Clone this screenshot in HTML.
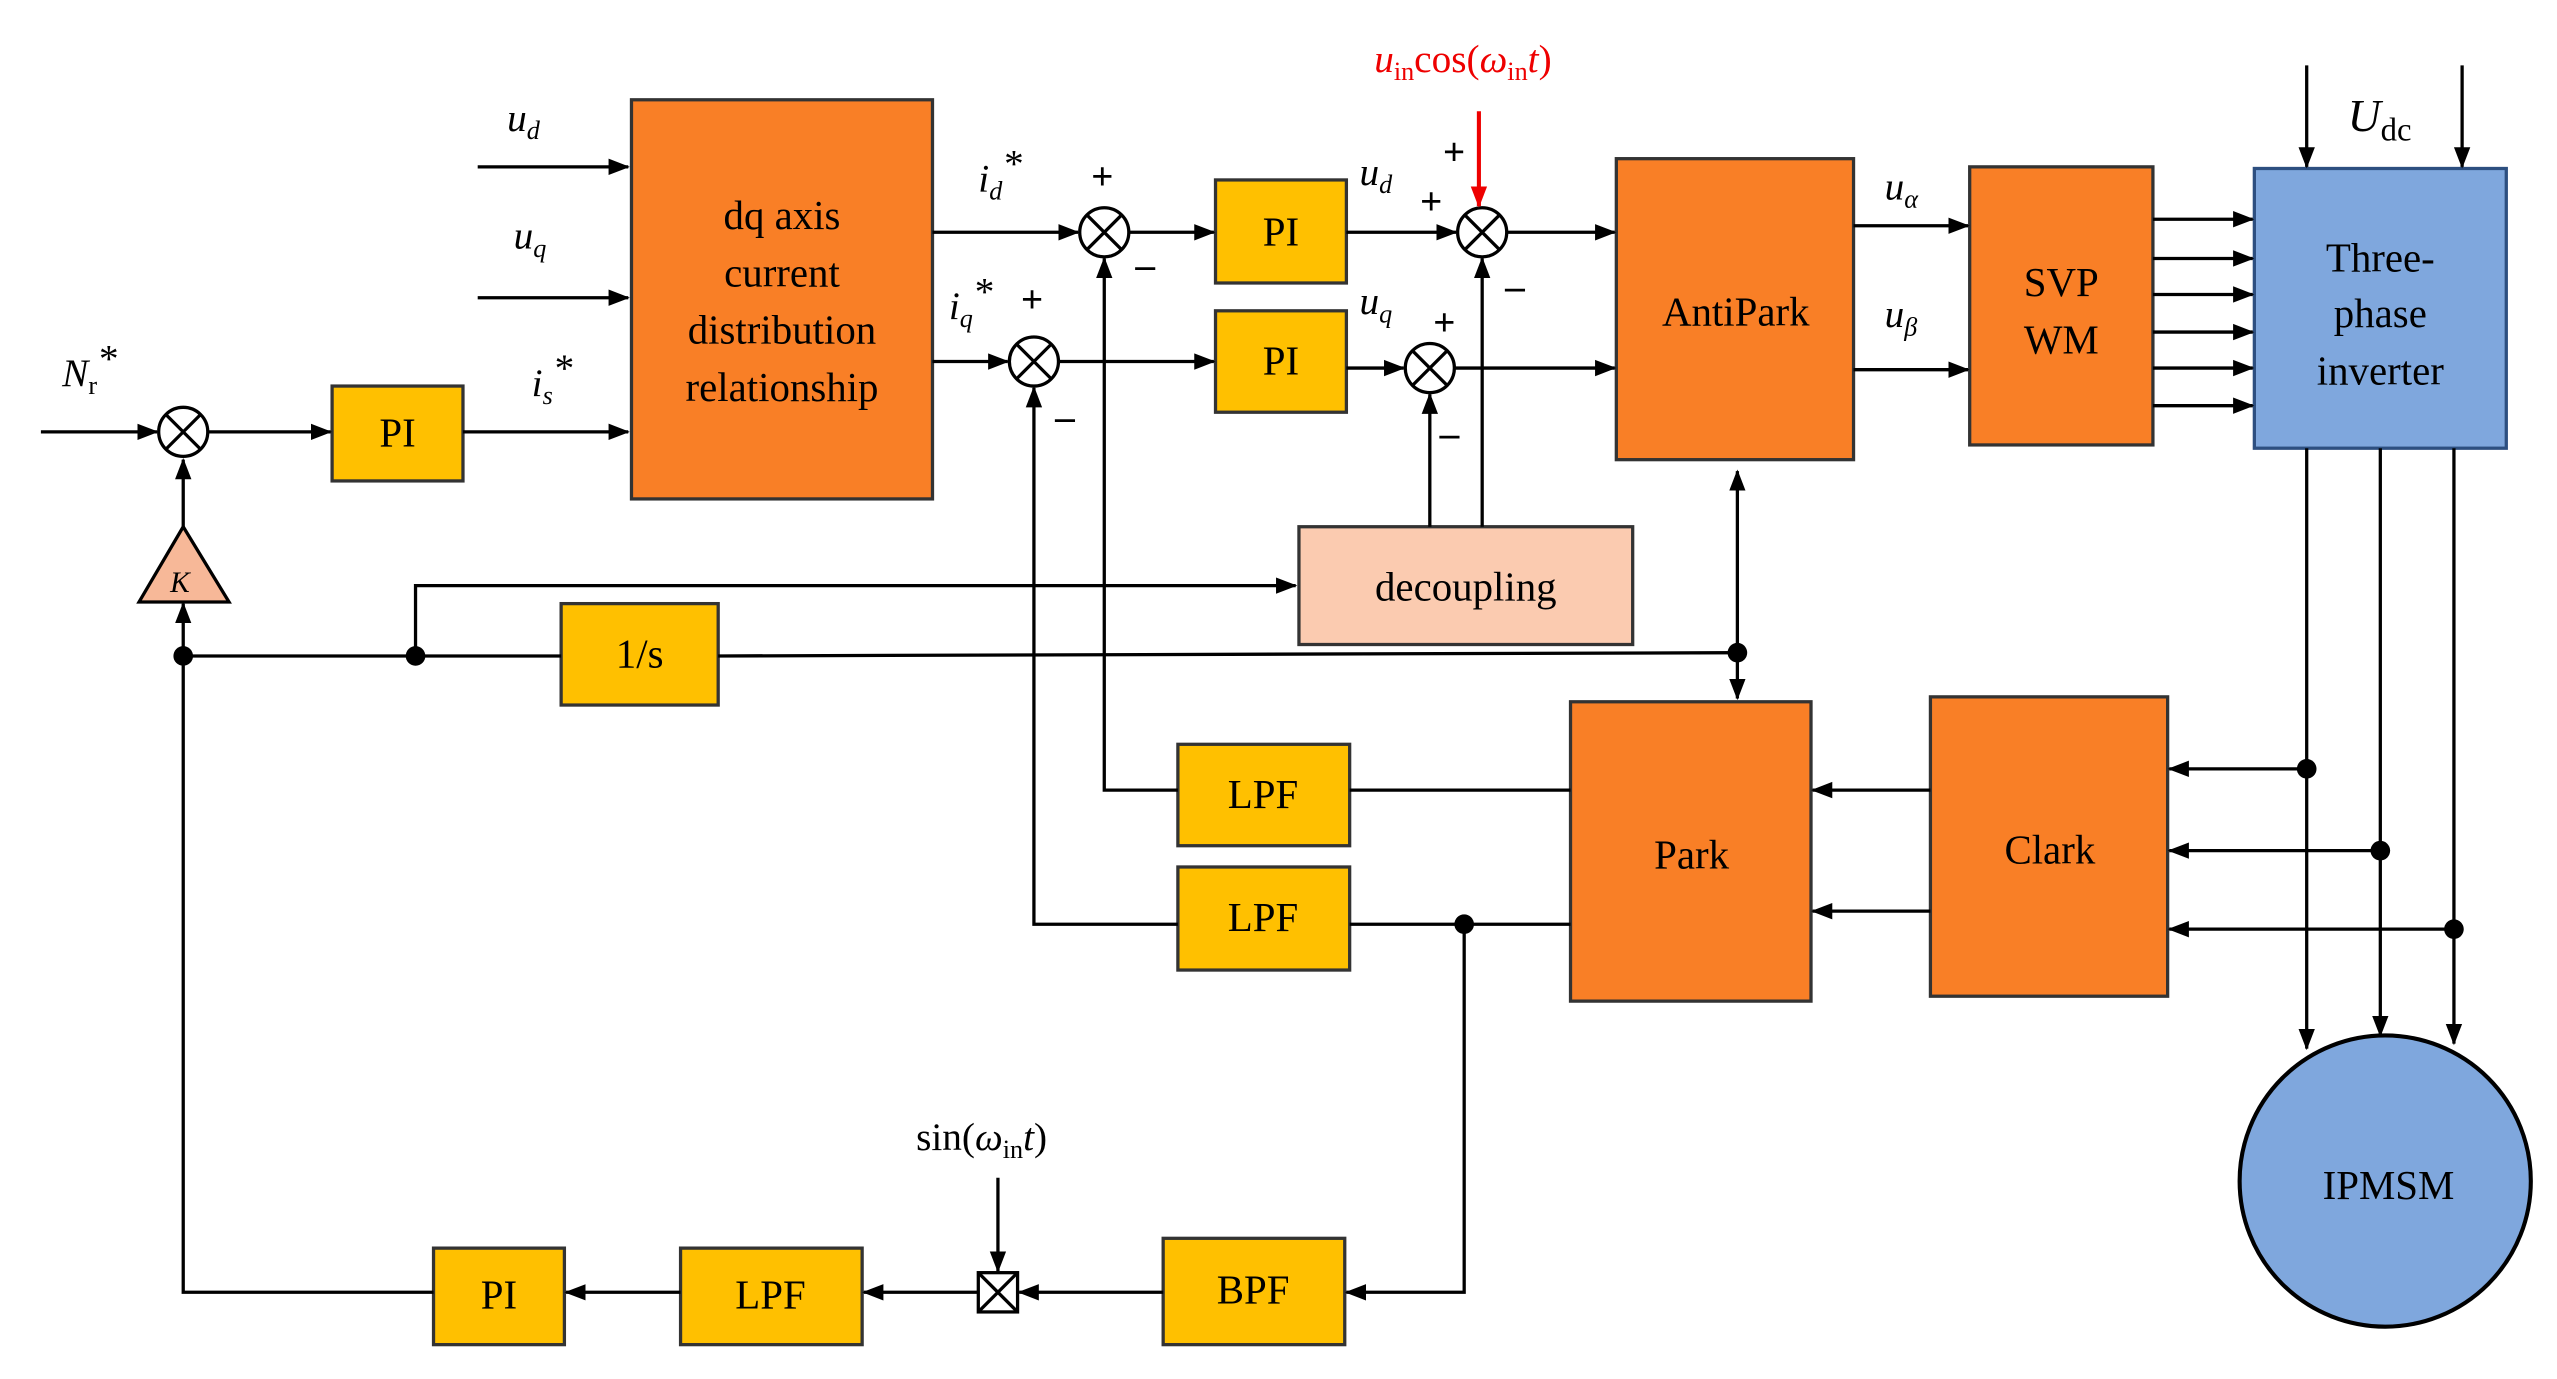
<!DOCTYPE html>
<html><head><meta charset="utf-8"><style>
html,body{margin:0;padding:0;background:#fff;}
svg{display:block;}
text{font-family:"Liberation Serif",serif;fill:#000;}
</style></head><body>
<svg width="2557" height="1379" viewBox="0 0 1563 843" preserveAspectRatio="none" xmlns="http://www.w3.org/2000/svg">
<defs>
<marker id="a" markerWidth="13" markerHeight="12" refX="12" refY="6" orient="auto" markerUnits="userSpaceOnUse"><path d="M0,1 L13,6 L0,11 Z" fill="#000"/></marker>
<marker id="r" markerWidth="13" markerHeight="12" refX="12" refY="6" orient="auto" markerUnits="userSpaceOnUse"><path d="M0,1 L13,6 L0,11 Z" fill="#e00"/></marker>
</defs>
<g stroke="#000" stroke-width="2" fill="none">
<rect x="386" y="61" width="184" height="244" fill="#F97F26" stroke="#333"/>
<rect x="203" y="236" width="80" height="58" fill="#FFC000" stroke="#333"/>
<rect x="743" y="110" width="80" height="63" fill="#FFC000" stroke="#333"/>
<rect x="743" y="190" width="80" height="62" fill="#FFC000" stroke="#333"/>
<rect x="988" y="97" width="145" height="184" fill="#F97F26" stroke="#333"/>
<rect x="1204" y="102" width="112" height="170" fill="#F97F26" stroke="#333"/>
<rect x="1378" y="103" width="154" height="171" fill="#7FA7DD" stroke="#2d4f80"/>
<rect x="794" y="322" width="204" height="72" fill="#FBCBB0" stroke="#333"/>
<rect x="343" y="369" width="96" height="62" fill="#FFC000" stroke="#333"/>
<rect x="960" y="429" width="147" height="183" fill="#F97F26" stroke="#333"/>
<rect x="1180" y="426" width="145" height="183" fill="#F97F26" stroke="#333"/>
<rect x="720" y="455" width="105" height="62" fill="#FFC000" stroke="#333"/>
<rect x="720" y="530" width="105" height="63" fill="#FFC000" stroke="#333"/>
<rect x="711" y="757" width="111" height="65" fill="#FFC000" stroke="#333"/>
<rect x="416" y="763" width="111" height="59" fill="#FFC000" stroke="#333"/>
<rect x="265" y="763" width="80" height="59" fill="#FFC000" stroke="#333"/>
<circle cx="1458" cy="722" r="89" fill="#7FA7DD" stroke="#000" stroke-width="2.5"/>
<path d="M112,322 L140,368 L85,368 Z" fill="#F7B898"/>
<circle cx="112" cy="264" r="15"/><path d="M101,253 L123,275 M123,253 L101,275"/>
<circle cx="675" cy="142" r="15"/><path d="M664,131 L686,153 M686,131 L664,153"/>
<circle cx="632" cy="221" r="15"/><path d="M621,210 L643,232 M643,210 L621,232"/>
<circle cx="906" cy="142" r="15"/><path d="M895,131 L917,153 M917,131 L895,153"/>
<circle cx="874" cy="225" r="15"/><path d="M863,214 L885,236 M885,214 L863,236"/>
<rect x="598" y="778" width="24" height="24"/><path d="M598,778 L622,802 M622,778 L598,802"/>
<path d="M25,264 L96,264" marker-end="url(#a)"/>
<path d="M127,264 L202,264" marker-end="url(#a)"/>
<path d="M283,264 L384,264" marker-end="url(#a)"/>
<path d="M292,102 L384,102" marker-end="url(#a)"/>
<path d="M292,182 L384,182" marker-end="url(#a)"/>
<path d="M570,142 L659,142" marker-end="url(#a)"/>
<path d="M570,221 L616,221" marker-end="url(#a)"/>
<path d="M690,142 L742,142" marker-end="url(#a)"/>
<path d="M647,221 L742,221" marker-end="url(#a)"/>
<path d="M823,142 L890,142" marker-end="url(#a)"/>
<path d="M823,225 L858,225" marker-end="url(#a)"/>
<path d="M921,142 L987,142" marker-end="url(#a)"/>
<path d="M889,225 L987,225" marker-end="url(#a)"/>
<path d="M874,322 L874,241" marker-end="url(#a)"/>
<path d="M906,322 L906,158" marker-end="url(#a)"/>
<path d="M1133,138 L1203,138" marker-end="url(#a)"/>
<path d="M1133,226 L1203,226" marker-end="url(#a)"/>
<path d="M1316,134 L1377,134" marker-end="url(#a)"/>
<path d="M1316,158 L1377,158" marker-end="url(#a)"/>
<path d="M1316,180 L1377,180" marker-end="url(#a)"/>
<path d="M1316,203 L1377,203" marker-end="url(#a)"/>
<path d="M1316,225 L1377,225" marker-end="url(#a)"/>
<path d="M1316,248 L1377,248" marker-end="url(#a)"/>
<path d="M1410,40 L1410,102" marker-end="url(#a)"/>
<path d="M1505,40 L1505,102" marker-end="url(#a)"/>
<path d="M1410,274 L1410,641" marker-end="url(#a)"/>
<path d="M1455,274 L1455,633" marker-end="url(#a)"/>
<path d="M1500,274 L1500,638" marker-end="url(#a)"/>
<path d="M1410,470 L1326,470" marker-end="url(#a)"/>
<path d="M1455,520 L1326,520" marker-end="url(#a)"/>
<path d="M1500,568 L1326,568" marker-end="url(#a)"/>
<path d="M1180,483 L1108,483" marker-end="url(#a)"/>
<path d="M1180,557 L1108,557" marker-end="url(#a)"/>
<path d="M960,483 L825,483"/>
<path d="M960,565 L825,565"/>
<path d="M720,483 L675,483 L675,158" marker-end="url(#a)"/>
<path d="M720,565 L632,565 L632,237" marker-end="url(#a)"/>
<path d="M895,565 L895,790 L823,790" marker-end="url(#a)"/>
<path d="M711,790 L623,790" marker-end="url(#a)"/>
<path d="M598,790 L528,790" marker-end="url(#a)"/>
<path d="M416,790 L346,790" marker-end="url(#a)"/>
<path d="M610,720 L610,777" marker-end="url(#a)"/>
<path d="M265,790 L112,790 L112,369" marker-end="url(#a)"/>
<path d="M112,322 L112,281" marker-end="url(#a)"/>
<path d="M112,401 L343,401 M439,401 L1062,399"/>
<path d="M254,401 L254,358 L792,358" marker-end="url(#a)"/>
<path d="M1062,399 L1062,288" marker-end="url(#a)"/>
<path d="M1062,399 L1062,427" marker-end="url(#a)"/>
</g>
<path d="M904,68 L904,126" stroke="#e00" stroke-width="2.5" marker-end="url(#r)"/>
<g fill="#000">
<circle cx="112" cy="401" r="6"/><circle cx="254" cy="401" r="6"/><circle cx="1062" cy="399" r="6"/>
<circle cx="895" cy="565" r="6"/><circle cx="1410" cy="470" r="6"/><circle cx="1455" cy="520" r="6"/><circle cx="1500" cy="568" r="6"/>
</g>
<g font-size="25" text-anchor="middle">
<text x="478" y="140">dq axis</text><text x="478" y="175">current</text><text x="478" y="210">distribution</text><text x="478" y="245">relationship</text>
<text x="243" y="273">PI</text><text x="783" y="150">PI</text><text x="783" y="229">PI</text>
<text x="1061" y="199">AntiPark</text>
<text x="1260" y="181">SVP</text><text x="1260" y="216">WM</text>
<text x="1455" y="166">Three-</text><text x="1455" y="200">phase</text><text x="1455" y="235">inverter</text>
<text x="896" y="367">decoupling</text><text x="391" y="408">1/s</text>
<text x="1034" y="531">Park</text><text x="1253" y="528">Clark</text>
<text x="772" y="494">LPF</text><text x="772" y="569">LPF</text>
<text x="766" y="797">BPF</text><text x="471" y="800">LPF</text><text x="305" y="800">PI</text>
<text x="1460" y="733">IPMSM</text>
</g>
<g font-size="24" font-style="italic">
<text x="310" y="80">u<tspan font-size="16" dy="5">d</tspan></text>
<text x="314" y="152">u<tspan font-size="16" dy="5">q</tspan></text>
<text x="38" y="236">N<tspan font-size="16" dy="5" font-style="normal">r</tspan><tspan dy="-14">*</tspan></text>
<text x="325" y="242">i<tspan font-size="16" dy="5">s</tspan><tspan dy="-14">*</tspan></text>
<text x="598" y="117">i<tspan font-size="16" dy="5">d</tspan><tspan dy="-14">*</tspan></text>
<text x="580" y="195">i<tspan font-size="16" dy="5">q</tspan><tspan dy="-14">*</tspan></text>
<text x="831" y="113">u<tspan font-size="16" dy="5">d</tspan></text>
<text x="831" y="192">u<tspan font-size="16" dy="5">q</tspan></text>
<text x="1152" y="122">u<tspan font-size="16" dy="5">α</tspan></text>
<text x="1152" y="200">u<tspan font-size="16" dy="5">β</tspan></text>
<text x="1435" y="80" font-size="28">U<tspan font-style="normal" font-size="20" dy="6">dc</tspan></text>
<text x="104" y="362" font-size="18">K</text>
<text x="840" y="44" style="fill:#e00">u<tspan font-size="16" dy="5" font-style="normal">in</tspan><tspan dy="-5" font-style="normal">cos(</tspan>ω<tspan font-size="16" dy="5" font-style="normal">in</tspan><tspan dy="-5">t</tspan><tspan font-style="normal">)</tspan></text>
<text x="560" y="703" font-style="normal">sin(<tspan font-style="italic">ω</tspan><tspan font-size="16" dy="5">in</tspan><tspan dy="-5" font-style="italic">t</tspan>)</text>
</g>
<g font-size="24" font-weight="bold" font-family="Liberation Sans,sans-serif">
<text x="667" y="116">+</text><text x="694" y="170">–</text>
<text x="624" y="191">+</text><text x="645" y="263">–</text>
<text x="882" y="101">+</text><text x="868" y="131">+</text><text x="920" y="183">–</text>
<text x="876" y="205">+</text><text x="880" y="273">–</text>
</g>
</svg>
</body></html>
